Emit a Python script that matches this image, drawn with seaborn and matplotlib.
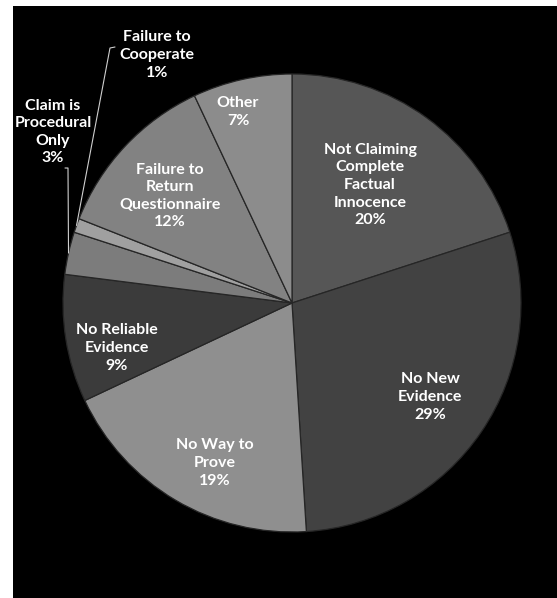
import numpy as np
import matplotlib
matplotlib.use("Agg")
import matplotlib.pyplot as plt
import seaborn as sns

# Reasons for rejection of innocence claims (percent of cases)
categories = [
    "Not Claiming\nComplete\nFactual\nInnocence",
    "No New\nEvidence",
    "No Way to\nProve",
    "No Reliable\nEvidence",
    "Claim is\nProcedural\nOnly",
    "Failure to\nCooperate",
    "Failure to\nReturn\nQuestionnaire",
    "Other",
]
shares = [20, 29, 19, 9, 3, 1, 12, 7]
gray_levels = ["#565656", "#424242", "#8f8f8f", "#3b3b3b",
               "#7c7c7c", "#a0a0a0", "#828282", "#8c8c8c"]

sns.set_theme(style="dark")
plt.rcParams["font.family"] = ["Lato", "DejaVu Sans"]

W, H = 557, 598
fig = plt.figure(figsize=(W / 100, H / 100), dpi=100, facecolor="white")
left_px, top_px = 12.7, 6
ax = fig.add_axes([left_px / W, 0, 1 - left_px / W, (H - top_px) / H])
ax.set_facecolor("black")

palette = sns.color_palette(gray_levels)
cx, cy, r = 292, H - 303, 229
wedges, _ = ax.pie(
    shares,
    colors=palette,
    startangle=90,
    counterclock=False,
    center=(cx, cy),
    radius=r,
    frame=True,
    wedgeprops=dict(edgecolor="#262626", linewidth=0.9),
)
ax.set_xlim(left_px, W)
ax.set_ylim(0, H - top_px)
ax.set_aspect("auto")
ax.set_xticks([])
ax.set_yticks([])
for s in ax.spines.values():
    s.set_visible(False)

# label anchor points in pixel space (x from left, y from top)
label_pos = [(370, 185), (430, 397), (215, 463), (117, 348),
             (53, 132), (157, 55), (170, 196), (238, 112)]
for name, val, (px, py) in zip(categories, shares, label_pos):
    ax.text(px, H - py, f"{name}\n{val}%", ha="center", va="center",
            color="white", fontsize=11.5, fontweight="bold",
            linespacing=1.32)

def wedge_edge_point(w):
    mid = np.deg2rad((w.theta1 + w.theta2) / 2)
    return cx + r * np.cos(mid), cy + r * np.sin(mid)

# leader lines for the two thin slices
ex, ey = wedge_edge_point(wedges[5])
ax.plot([115, 110, ex], [H - 47, H - 48, ey], color="#cfcfcf", lw=0.8)
ex, ey = wedge_edge_point(wedges[4])
ax.plot([65, 68, ex], [H - 168, H - 168, ey], color="#cfcfcf", lw=0.8)

fig.savefig("out.png", dpi=100, facecolor="white")
